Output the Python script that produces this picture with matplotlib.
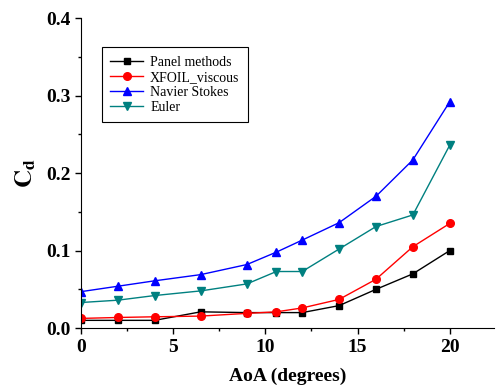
import matplotlib
matplotlib.use("Agg")
import matplotlib.pyplot as plt
from matplotlib.ticker import MultipleLocator

plt.rcParams['font.family'] = ['Liberation Serif', 'DejaVu Serif']
plt.rcParams['mathtext.fontset'] = 'stix'

# Drag coefficient vs angle of attack
aoa = [0, 2, 4, 6.5, 9, 10.6, 12, 14, 16, 18, 20]
panel = [0.010, 0.010, 0.010, 0.021, 0.020, 0.020, 0.020, 0.029, 0.050, 0.070, 0.100]
xfoil = [0.0125, 0.0137, 0.0146, 0.0155, 0.019, 0.021, 0.026, 0.037, 0.063, 0.105, 0.135]
navier = [0.047, 0.054, 0.061, 0.069, 0.082, 0.098, 0.1135, 0.136, 0.170, 0.217, 0.292]
euler = [0.033, 0.036, 0.042, 0.048, 0.057, 0.073, 0.073, 0.102, 0.131, 0.146, 0.236]

fig = plt.figure(figsize=(4.96, 3.92), dpi=100)
ax = fig.add_axes([0.163, 0.163, 0.833, 0.791])

ax.plot(aoa, panel, color='black', marker='s', ms=4.5, lw=1, label='Panel methods')
ax.plot(aoa, xfoil, color='red', marker='o', ms=5.5, lw=1, label='XFOIL_viscous')
ax.plot(aoa, navier, color='blue', marker='^', ms=6, lw=1, label='Navier Stokes')
ax.plot(aoa, euler, color='#008080', marker='v', ms=6, lw=1, label='Euler')

ax.set_xlim(0, 22.4)
ax.set_ylim(0, 0.4)
ax.xaxis.set_major_locator(MultipleLocator(5))
ax.xaxis.set_minor_locator(MultipleLocator(2.5))
ax.yaxis.set_major_locator(MultipleLocator(0.1))
ax.yaxis.set_minor_locator(MultipleLocator(0.05))
ax.tick_params(which='major', direction='out', length=4, width=1, labelsize=14)
ax.tick_params(which='minor', direction='out', length=2.5, width=1)
for lbl in ax.get_xticklabels() + ax.get_yticklabels():
    lbl.set_fontweight('bold')

ax.spines['top'].set_visible(False)
ax.spines['right'].set_visible(False)

ax.set_xlabel('AoA (degrees)', fontsize=14, fontweight='bold', labelpad=9)
ax.set_ylabel(r'$\mathbf{C_d}$', fontsize=18, labelpad=6)

leg = ax.legend(loc='upper left', bbox_to_anchor=(0.05, 0.905), borderaxespad=0,
                fontsize=10, fancybox=False, edgecolor='black', framealpha=1,
                handlelength=2.4, handletextpad=0.5, borderpad=0.6, labelspacing=0.15)
leg.get_frame().set_linewidth(0.8)

fig.savefig('out.png', dpi=100)
